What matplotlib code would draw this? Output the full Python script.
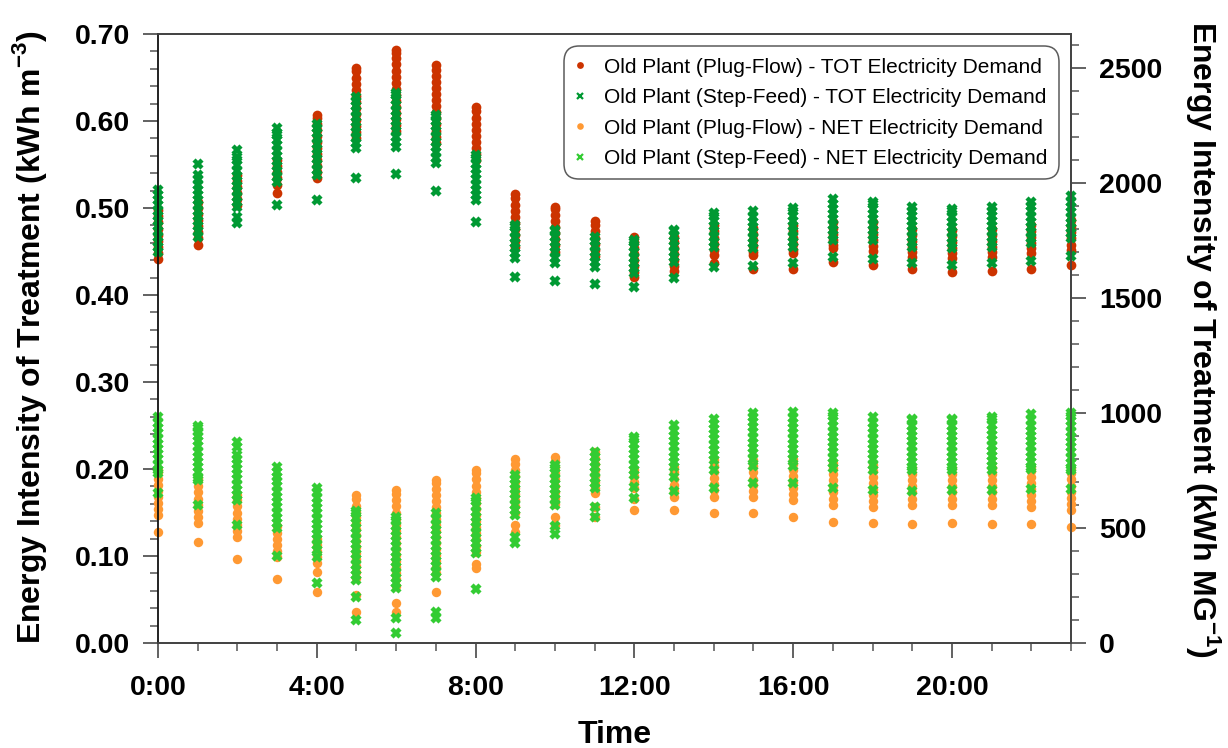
import matplotlib
matplotlib.use("Agg")
import matplotlib.pyplot as plt
from matplotlib.ticker import MultipleLocator, FixedLocator, FixedFormatter

plt.rcParams['font.family'] = ['Liberation Sans', 'DejaVu Sans']
plt.rcParams['mathtext.fontset'] = 'custom'
plt.rcParams['mathtext.rm'] = 'Liberation Sans'
plt.rcParams['mathtext.bf'] = 'Liberation Sans:bold'

hours = list(range(24))
tick_hours = [0, 4, 8, 12, 16, 20]
tick_labels = ['0:00', '4:00', '8:00', '12:00', '16:00', '20:00']

# values, in thousandths of kWh m-3, one list per hour
tot_plug = [
    [441, 448, 455, 462, 469, 476, 484, 491, 498],
    [458, 465, 472, 479, 486, 493, 500, 507],
    [503, 510, 517, 524, 531, 538],
    [517, 527, 534, 541, 548, 555],
    [534, 541, 548, 555, 562, 569, 576, 583, 590, 597, 604, 607],
    [580, 587, 594, 601, 608, 615, 622, 629, 636, 643, 650, 657, 661],
    [588, 595, 602, 609, 616, 623, 630, 637, 644, 651, 658, 665, 672, 678, 682],
    [575, 582, 589, 596, 603, 610, 617, 624, 631, 638, 645, 652, 659, 664],
    [555, 562, 569, 576, 583, 590, 597, 604, 611, 616],
    [455, 462, 469, 476, 483, 490, 497, 504, 511, 516],
    [450, 457, 464, 471, 478, 485, 492, 499, 501],
    [445, 452, 459, 466, 473, 480, 485],
    [421, 426, 433, 440, 447, 454, 461, 467],
    [428, 433, 440, 447, 454, 461, 467],
    [437, 446, 452, 459, 466, 473, 480],
    [430, 446, 449, 456, 463, 470, 477],
    [430, 448, 452, 459, 466, 473, 480],
    [438, 454, 458, 463, 470, 477, 484],
    [434, 451, 456, 463, 470, 477, 484],
    [430, 444, 449, 455, 462, 469, 476],
    [427, 442, 448, 454, 461, 468, 475],
    [428, 444, 449, 455, 462, 469, 476],
    [430, 448, 454, 460, 467, 474, 481],
    [434, 452, 458, 465, 472, 479, 486],
]
tot_step = [
    [449, 455, 461, 467, 473, 479, 485, 491, 497, 503, 509, 515, 521],
    [467, 473, 479, 485, 491, 497, 503, 509, 515, 521, 527, 533, 538, 550],
    [483, 490, 501, 507, 513, 519, 525, 531, 537, 543, 549, 555, 559, 567],
    [503, 530, 536, 542, 548, 554, 560, 566, 572, 578, 584, 586, 592],
    [509, 538, 544, 550, 556, 562, 568, 574, 580, 586, 592, 597],
    [535, 569, 575, 581, 587, 593, 599, 605, 611, 617, 623, 628],
    [539, 570, 576, 582, 588, 594, 600, 606, 612, 618, 624, 630, 632],
    [520, 552, 558, 564, 570, 576, 582, 588, 594, 600, 605, 607],
    [484, 509, 515, 521, 527, 533, 539, 545, 551, 557, 561],
    [421, 442, 448, 454, 460, 466, 472, 478, 480],
    [416, 437, 443, 449, 455, 461, 467, 473, 475],
    [413, 432, 438, 444, 450, 456, 462, 467],
    [409, 425, 431, 437, 443, 449, 455, 461, 463],
    [419, 438, 444, 450, 456, 462, 468, 474, 475],
    [432, 455, 461, 467, 473, 479, 485, 491, 494],
    [433, 454, 460, 466, 472, 478, 484, 490, 497],
    [437, 455, 461, 467, 473, 479, 485, 491, 497, 500],
    [444, 463, 469, 475, 481, 487, 493, 499, 505, 510],
    [441, 463, 469, 475, 481, 487, 493, 499, 505, 507],
    [437, 455, 461, 467, 473, 479, 485, 491, 497, 501],
    [434, 454, 460, 466, 472, 478, 484, 490, 496, 499],
    [437, 455, 461, 467, 473, 479, 485, 491, 497, 501],
    [439, 460, 466, 472, 478, 484, 490, 496, 502, 507],
    [445, 465, 471, 477, 483, 489, 495, 501, 507, 514],
]
net_plug = [
    [128, 147, 154, 161, 168, 175, 182, 189, 196, 199],
    [116, 138, 145, 152, 159, 166, 173, 180, 187, 190],
    [97, 122, 129, 136, 143, 150, 157, 164, 170],
    [73, 99, 106, 113, 120, 127, 134],
    [59, 82, 92, 99, 106, 113, 120],
    [36, 55, 75, 82, 89, 96, 103, 110, 117, 124, 131, 138, 145, 151, 158, 165, 170],
    [36, 46, 66, 73, 80, 87, 94, 101, 108, 115, 122, 129, 136, 143, 150, 157, 164, 171, 176],
    [59, 80, 87, 94, 101, 108, 115, 122, 129, 136, 143, 149, 156, 163, 170, 177, 184, 187],
    [86, 91, 105, 112, 119, 126, 133, 140, 147, 154, 161, 167, 174, 181, 188, 195, 199],
    [128, 136, 150, 157, 164, 171, 178, 185, 192, 199, 206, 211],
    [136, 145, 160, 167, 174, 181, 188, 195, 202, 209, 214],
    [145, 156, 172, 178, 185, 192, 199, 206, 213, 219],
    [153, 166, 178, 185, 192, 199],
    [153, 168, 175, 182, 189, 196, 202],
    [149, 168, 176, 183, 190, 197, 204, 210],
    [149, 168, 175, 182, 189, 196, 203, 210],
    [145, 164, 171, 178, 185, 192, 199, 206, 211],
    [139, 159, 166, 173, 180, 187, 194, 201, 207],
    [138, 156, 163, 170, 177, 184, 191, 198, 205],
    [137, 159, 166, 173, 180, 187, 194, 201],
    [138, 159, 166, 173, 180, 187, 194, 201],
    [137, 159, 166, 173, 180, 187, 194, 201],
    [137, 156, 163, 170, 177, 184, 191, 198, 202],
    [133, 153, 160, 167, 174, 181, 188, 195, 201],
]
net_step = [
    [172, 195, 199, 205, 211, 217, 223, 229, 235, 241, 247, 253, 260],
    [159, 187, 190, 196, 202, 208, 214, 220, 226, 232, 238, 243, 247, 250],
    [136, 164, 170, 176, 182, 188, 194, 200, 206, 212, 216, 225, 231],
    [100, 132, 138, 144, 150, 156, 162, 168, 174, 180, 186, 191, 197, 202],
    [69, 99, 107, 113, 119, 125, 131, 137, 143, 149, 155, 161, 167, 174, 178],
    [26, 53, 72, 78, 84, 90, 96, 102, 108, 114, 120, 126, 132, 138, 144, 150, 152],
    [12, 29, 63, 69, 75, 81, 87, 93, 99, 105, 111, 117, 123, 129, 135, 141, 145],
    [29, 36, 76, 82, 88, 94, 100, 106, 112, 118, 124, 130, 136, 142, 149],
    [62, 103, 109, 115, 121, 127, 133, 139, 145, 151, 157, 163, 167],
    [115, 122, 147, 153, 159, 165, 171, 177, 183, 189, 193],
    [125, 134, 159, 165, 171, 177, 183, 189, 195, 201, 205],
    [145, 156, 178, 184, 190, 196, 202, 208, 214, 220],
    [167, 179, 193, 199, 205, 211, 217, 223, 229, 235, 237],
    [175, 191, 202, 208, 214, 220, 226, 232, 238, 244, 251],
    [178, 199, 210, 216, 222, 228, 234, 240, 246, 252, 258],
    [184, 203, 212, 218, 224, 230, 236, 242, 248, 254, 260, 264],
    [184, 204, 211, 217, 223, 229, 235, 241, 247, 253, 259, 265],
    [178, 201, 207, 213, 219, 225, 231, 237, 243, 249, 255, 261, 264],
    [176, 199, 205, 211, 217, 223, 229, 235, 241, 247, 253, 260],
    [175, 199, 202, 208, 214, 220, 226, 232, 238, 244, 250, 256, 258],
    [176, 199, 202, 208, 214, 220, 226, 232, 238, 244, 250, 256, 258],
    [176, 199, 203, 209, 215, 221, 227, 233, 239, 245, 251, 257, 260],
    [177, 200, 202, 208, 214, 220, 226, 232, 238, 244, 250, 256, 263],
    [177, 199, 201, 207, 213, 219, 225, 231, 237, 243, 249, 255, 261, 264],
]

M3_PER_MG = 3785.41


def flatten(series):
    xs, ys = [], []
    for h, vals in zip(hours, series):
        xs += [h] * len(vals)
        ys += [v / 1000.0 for v in vals]
    return xs, ys


fig = plt.figure(figsize=(12.28, 7.48), dpi=100)
ax = fig.add_axes([158 / 1228, 1 - 643 / 748, 913 / 1228, 609 / 748])

x, y = flatten(tot_plug)
ax.plot(x, y, ls='none', marker='o', ms=7.0, color='#cc3300', mec='none', clip_on=False,
        label='Old Plant (Plug-Flow) - TOT Electricity Demand')
x, y = flatten(tot_step)
ax.plot(x, y, ls='none', marker='x', ms=6.2, mew=3.2, color='#009933', clip_on=False,
        label='Old Plant (Step-Feed) - TOT Electricity Demand')
x, y = flatten(net_plug)
ax.plot(x, y, ls='none', marker='o', ms=6.8, color='#ff9933', mec='none', clip_on=False,
        label='Old Plant (Plug-Flow) - NET Electricity Demand')
x, y = flatten(net_step)
ax.plot(x, y, ls='none', marker='x', ms=6.2, mew=3.2, color='#33cc33', clip_on=False,
        label='Old Plant (Step-Feed) - NET Electricity Demand')

ax.set_xlim(0, 23)
ax.set_ylim(0, 0.70)

spine_col = '#444444'
for s in ['left', 'bottom', 'top', 'right']:
    ax.spines[s].set_color(spine_col)
    ax.spines[s].set_linewidth(1.3)
ax.spines['left'].set_color('#111111')

ax.xaxis.set_major_locator(FixedLocator(tick_hours))
ax.xaxis.set_major_formatter(FixedFormatter(tick_labels))
ax.xaxis.set_minor_locator(MultipleLocator(1))
ax.yaxis.set_major_locator(MultipleLocator(0.1))
ax.yaxis.set_minor_locator(MultipleLocator(0.02))
ax.yaxis.set_major_formatter(plt.FuncFormatter(lambda v, p: '%.2f' % v))

ax.tick_params(which='major', direction='out', length=11, width=1.3, color='#555555',
               labelsize=20.5, pad=9)
ax.tick_params(which='minor', direction='out', length=6, width=1.1, color='#555555')
ax.tick_params(axis='x', which='major', pad=12)
for lab in ax.get_xticklabels() + ax.get_yticklabels():
    lab.set_fontweight('bold')

ax2 = ax.twinx()
ax2.set_ylim(0, 0.70 * M3_PER_MG)
ax2.yaxis.set_major_locator(MultipleLocator(500))
ax2.yaxis.set_minor_locator(MultipleLocator(100))
ax2.tick_params(which='major', direction='out', length=11, width=1.3, color='#555555',
                labelsize=20.5, pad=9)
ax2.tick_params(which='minor', direction='out', length=6, width=1.1, color='#555555')
for lab in ax2.get_yticklabels():
    lab.set_fontweight('bold')
for s in ['left', 'bottom', 'top', 'right']:
    ax2.spines[s].set_color(spine_col)
    ax2.spines[s].set_linewidth(1.3)
ax2.spines['left'].set_visible(False)

fig.text(30 / 1228, 1 - 337 / 748, 'Energy Intensity of Treatment (kWh m$^{\\mathbf{-3}}$)',
         rotation=90, ha='center', va='center', fontsize=23, fontweight='bold')
fig.text(1204 / 1228, 1 - 340 / 748, 'Energy Intensity of Treatment (kWh MG$^{\\mathbf{-1}}$)',
         rotation=270, ha='center', va='center', fontsize=23, fontweight='bold')
fig.text(614.5 / 1228, 1 - 743 / 748, 'Time', ha='center', va='baseline',
         fontsize=23, fontweight='bold')

leg = ax.legend(loc='upper right', bbox_to_anchor=(0.987, 0.98), borderaxespad=0,
                fontsize=15, markerscale=0.7, handlelength=0.5, handletextpad=0.9,
                labelspacing=0.55, borderpad=0.55, frameon=True, fancybox=True)
for h in leg.legend_handles:
    if h.get_marker() == 'x':
        h.set_markeredgewidth(1.6)
frame = leg.get_frame()
frame.set_edgecolor('#333333')
frame.set_linewidth(1.1)
frame.set_boxstyle('round,pad=0,rounding_size=0.75')
leg.set_zorder(10)
ax.set_zorder(ax2.get_zorder() + 1)
ax.patch.set_visible(False)

fig.savefig('out.png', dpi=100)
